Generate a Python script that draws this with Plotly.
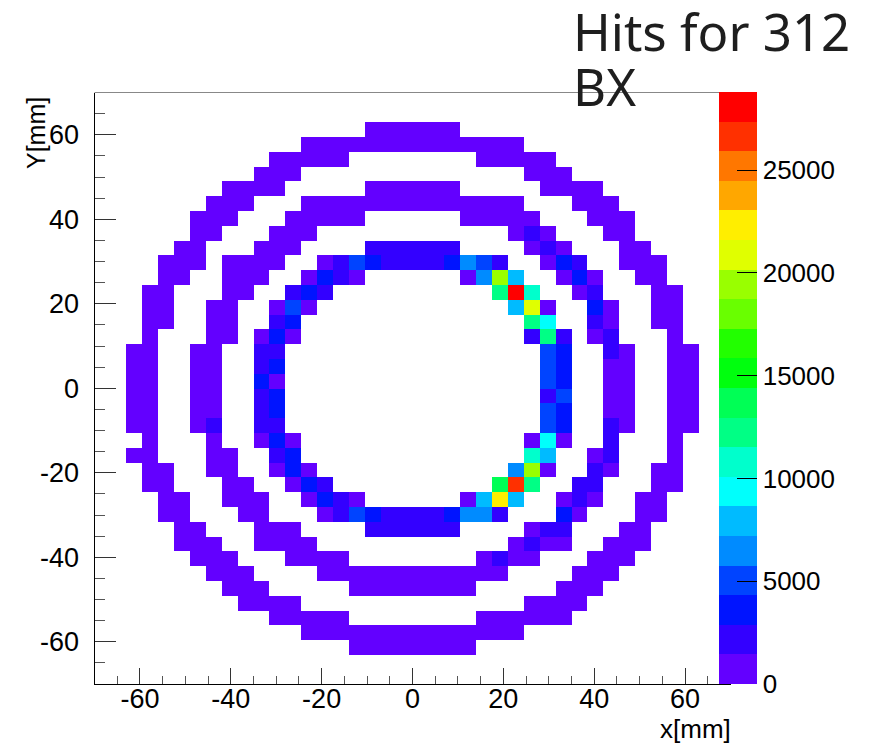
import colorsys
import plotly.graph_objects as go

# ---------------- data ----------------
# 40 x 40 bins of 3.5 mm covering [-70, 70] mm on both axes.
x_edges_lo = -70.0
bin_width = 3.5
n_bins = 40
x_centers = [x_edges_lo + bin_width * (i + 0.5) for i in range(n_bins)]
y_centers = [70.0 - bin_width * (j + 0.5) for j in range(n_bins)]  # row 0 = top

hit_rows = [
    "........................................",
    "........................................",
    ".................000000.................",
    ".............00000000000000.............",
    "...........00000........00000...........",
    "..........000..............000..........",
    "........0000.....000000.....0000........",
    ".......000...00000000000000...000.......",
    "......000...00000......00000...000......",
    "......00...000............010...00......",
    ".....00...000....111111....010...00.....",
    "....000.0000..013211112431..021..000....",
    "....00..000..0210......04d5..020..00....",
    "...00...00..121..........8j7..01...00...",
    "...00..00..030............5e0..20..00...",
    "...00..00..12..............86..10..00...",
    "...0...00.020..............181.01...0...",
    "..00..00..11................32..10..00..",
    "..00..00..12................32..00..00..",
    "..00..00..20................32..00..00..",
    "..00..00..12................13..00..00..",
    "..00..00..12................32..00..00..",
    "..00..01..11................32..10..00..",
    "...0...0..020..............060..1...0...",
    "..00...00..12..............75..01...0...",
    "...00..00..020............4d0..10..00...",
    "...00...00..021..........9i8..11...00...",
    "....00..000..0210......05f5..010..00....",
    "....00...00...013211112441...20...00....",
    ".....00...000....111111....011...00.....",
    ".....000..0000............0100..000.....",
    "......000...0000........0100...000......",
    ".......000....000000000000....000.......",
    "........000.....00000000.....000........",
    ".........0000..............0000.........",
    "...........00000........000000..........",
    ".............00000000000000.............",
    "................00000000................",
    "........................................",
    "........................................",
]

# estimated hit count for each colour band seen in the picture
band_hits = {
    "0": 700, "1": 2100, "2": 3600, "3": 5000, "4": 6500, "5": 7900,
    "6": 9400, "7": 10800, "8": 12200, "9": 13700,
    "d": 19400, "e": 20900, "f": 22300, "i": 26600, "j": 28800,
}

axis_tick_vals = [-60, -40, -20, 0, 20, 40, 60]
axis_tick_text = ["-60", "-40", "-20", "0", "20", "40", "60"]
z_tick_vals = [0, 5000, 10000, 15000, 20000, 25000]
z_tick_text = ["0", "5000", "10000", "15000", "20000", "25000"]

title_lines = ["Hits for 312", "BX"]
x_title = "x[mm]"
y_title = "Y[mm]"

# ---------------- build ----------------
z = [[(band_hits[c] if c != "." else None) for c in row] for row in hit_rows]
zmax = max(v for row in z for v in row if v is not None)

# ROOT "pretty" palette (violet -> red), 20 contour levels
n_cont = 20
colorscale = []
for b in range(n_cont):
    k = int((b + 0.99) * 50 / n_cont)
    hue = 280.0 - (k + 1) * 5.6
    r, g, bl = colorsys.hls_to_rgb(hue / 360.0, 0.5, 1.0)
    col = "rgb(%d,%d,%d)" % (round(r * 255), round(g * 255), round(bl * 255))
    colorscale.append([b / n_cont, col])
    colorscale.append([(b + 1) / n_cont, col])

W, H = 869, 744
OFF = 8  # page body margin shifts the figure by 8 px right/down


def px(xs):
    return (xs - OFF) / W


def py(ys):
    return (H - (ys - OFF)) / H


fx0, fx1 = 94.5, 730.5
fy0, fy1 = 92.5, 684.0
lab_font = "Liberation Sans, Arial"

fig = go.Figure(
    go.Heatmap(
        x=x_centers,
        y=y_centers,
        z=z,
        zmin=0,
        zmax=zmax,
        colorscale=colorscale,
        hoverongaps=False,
        colorbar=dict(
            x=px(719), xanchor="left",
            y=py(fy1), yanchor="bottom",
            len=fy1 - fy0, lenmode="pixels",
            thickness=38, thicknessmode="pixels",
            outlinewidth=0, xpad=0, ypad=0,
            tickmode="array", tickvals=z_tick_vals, ticktext=z_tick_text,
            ticks="inside", ticklen=20, tickcolor="black", tickwidth=1,
            tickfont=dict(family=lab_font, size=26, color="black"),
        ),
    )
)

fig.update_layout(
    width=W, height=H,
    margin=dict(l=0, r=0, t=0, b=0),
    paper_bgcolor="white", plot_bgcolor="white",
    showlegend=False,
    xaxis=dict(
        domain=[px(fx0), px(fx1)], range=[-70, 70],
        tickmode="array", tickvals=axis_tick_vals, ticktext=axis_tick_text,
        ticks="inside", ticklen=16, tickcolor="#333", tickwidth=1,
        minor=dict(dtick=5, tick0=0, ticks="inside", ticklen=8, tickcolor="#555"),
        showline=True, linecolor="black", linewidth=1,
        showgrid=False, zeroline=False,
        tickfont=dict(family=lab_font, size=27, color="black"),
        ticklabelstandoff=-9,
    ),
    yaxis=dict(
        domain=[py(fy1), py(fy0)], range=[-70, 70],
        tickmode="array", tickvals=axis_tick_vals, ticktext=axis_tick_text,
        ticks="inside", ticklen=21, tickcolor="#333", tickwidth=1,
        minor=dict(dtick=5, tick0=0, ticks="inside", ticklen=10, tickcolor="#555"),
        showline=True, linecolor="black", linewidth=1,
        showgrid=False, zeroline=False,
        tickfont=dict(family=lab_font, size=27, color="black"),
        ticklabelstandoff=9,
    ),
    shapes=[
        dict(type="line", xref="paper", yref="paper",
             x0=px(fx0), x1=px(fx1), y0=py(fy0), y1=py(fy0),
             line=dict(color="#888", width=1)),
    ],
    annotations=[
        dict(text=x_title, x=px(733), y=py(729), xref="paper", yref="paper",
             xanchor="right", yanchor="middle", showarrow=False,
             font=dict(family=lab_font, size=26, color="black")),
        dict(text=y_title, x=px(36), y=py(133), xref="paper", yref="paper",
             xanchor="center", yanchor="middle", textangle=-90, showarrow=False,
             font=dict(family=lab_font, size=25, color="black")),
        dict(text=title_lines[0], x=px(571), y=py(31), xref="paper", yref="paper",
             xanchor="left", yanchor="middle", showarrow=False,
             font=dict(family="Noto Sans", size=51, color="#1e1e1e")),
        dict(text=title_lines[1], x=px(571), y=py(86), xref="paper", yref="paper",
             xanchor="left", yanchor="middle", showarrow=False,
             font=dict(family="Noto Sans", size=51, color="#1e1e1e")),
    ],
)

fig.write_html("out.html")
